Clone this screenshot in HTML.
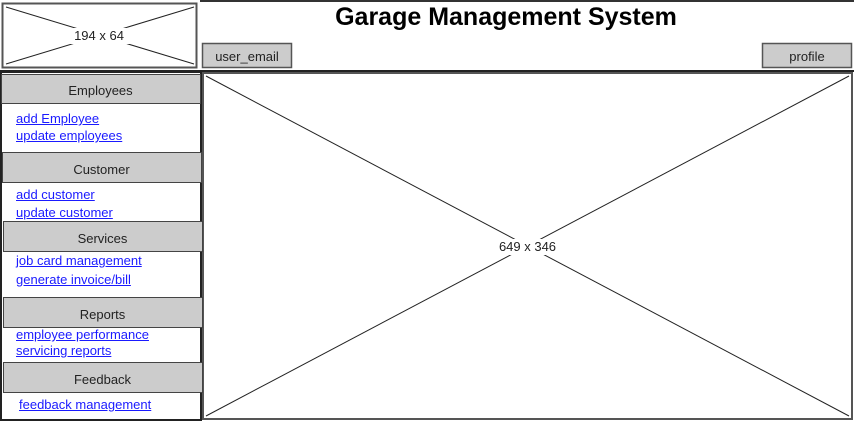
<!DOCTYPE html>
<html><head><meta charset="utf-8"><style>
body{margin:0;width:854px;height:422px;overflow:hidden;background:#fff;font-family:"Comic Sans MS","Liberation Sans",sans-serif;}
svg{position:absolute;left:0;top:0}
a,.t{position:absolute;font-size:13px;white-space:nowrap}
a{color:#1a1aff;text-decoration:underline}
.c{text-align:center;color:#222}
</style></head><body>
<svg width="854" height="422">
<line x1="200" y1="1" x2="854" y2="1" stroke="#333" stroke-width="2"/>
<rect x="2.5" y="3.5" width="194" height="64" fill="#fff" stroke="#555" stroke-width="2"/>
<line x1="6" y1="7" x2="194" y2="64" stroke="#222"/><line x1="6" y1="64" x2="194" y2="7" stroke="#222"/>
<rect x="70" y="28" width="60" height="16" fill="#fff"/>
<line x1="0" y1="71" x2="854" y2="71" stroke="#222" stroke-width="2"/>
<rect x="202.5" y="43.5" width="89" height="24" fill="#ccc" stroke="#555" stroke-width="1.5"/>
<rect x="762.5" y="43.5" width="89" height="24" fill="#ccc" stroke="#555" stroke-width="1.5"/>
<rect x="1" y="72" width="200" height="348" fill="#fff" stroke="#222" stroke-width="2"/>
<rect x="203" y="73" width="649" height="346" fill="#fff" stroke="#555" stroke-width="2"/>
<line x1="206" y1="76" x2="849" y2="416" stroke="#222"/><line x1="206" y1="416" x2="849" y2="76" stroke="#222"/>
<rect x="496" y="239" width="64" height="16" fill="#fff"/>
<rect x="1.5" y="74.5" width="199" height="29" fill="#ccc" stroke="#444"/>
<rect x="2.5" y="152.5" width="199" height="30" fill="#ccc" stroke="#444"/>
<rect x="3.5" y="221.5" width="199" height="30" fill="#ccc" stroke="#444"/>
<rect x="3.5" y="297.5" width="199" height="30" fill="#ccc" stroke="#444"/>
<rect x="3.5" y="362.5" width="199" height="30" fill="#ccc" stroke="#444"/>
</svg>
<div class="t c" style="left:2px;width:194px;top:28px">194 x 64</div>
<div class="t c" style="left:203px;width:649px;top:239px">649 x 346</div>
<div class="t c" style="left:200px;width:612px;top:3px;font-size:25px;font-weight:bold;color:#000">Garage Management System</div>
<div class="t c" style="left:202px;width:90px;top:49px">user_email</div>
<div class="t c" style="left:762px;width:90px;top:49px">profile</div>
<div class="t c" style="left:1px;width:199px;top:83px">Employees</div>
<div class="t c" style="left:2px;width:199px;top:162px">Customer</div>
<div class="t c" style="left:3px;width:199px;top:231px">Services</div>
<div class="t c" style="left:3px;width:199px;top:307px">Reports</div>
<div class="t c" style="left:3px;width:199px;top:372px">Feedback</div>
<a style="left:16px;top:111px">add Employee</a>
<a style="left:16px;top:128px">update employees</a>
<a style="left:16px;top:187px">add customer</a>
<a style="left:16px;top:205px">update customer</a>
<a style="left:16px;top:253px">job card management</a>
<a style="left:16px;top:272px">generate invoice/bill</a>
<a style="left:16px;top:327px">employee performance</a>
<a style="left:16px;top:343px">servicing reports</a>
<a style="left:19px;top:397px">feedback management</a>
</body></html>
